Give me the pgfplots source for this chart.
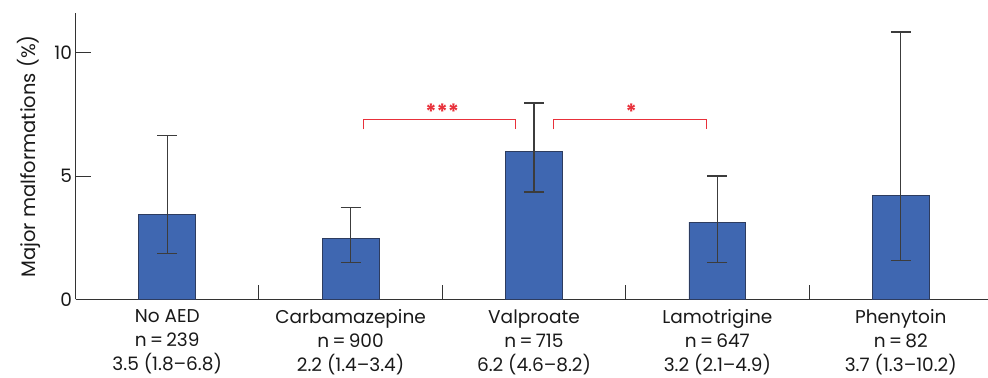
\documentclass[border=0pt]{standalone}
\usepackage{pgfplots}
\pgfplotsset{compat=1.18}
\usepackage{fontspec}
\setmainfont{Poppins}
\definecolor{barblue}{RGB}{63,103,177}
\definecolor{baredge}{RGB}{45,60,95}
\definecolor{sigred}{RGB}{232,48,58}
\definecolor{errgrey}{RGB}{60,60,60}
\begin{document}
\begin{tikzpicture}
\begin{axis}[
  name=ax,
  scale only axis, width=917bp, height=286bp,
  xmin=-0.5, xmax=4.5, ymin=0, ymax=11.6,
  axis x line*=bottom, axis y line*=left,
  axis line style={line width=0.9bp, draw=black!80},
  xtick={0,1,2,3,4},
  xticklabels={{No AED\\n\,=\,239\\3.5 (1.8–6.8)},{Carbamazepine\\n\,=\,900\\2.2 (1.4–3.4)},{Valproate\\n\,=\,715\\6.2 (4.6–8.2)},{Lamotrigine\\n\,=\,647\\3.2 (2.1–4.9)},{Phenytoin\\n\,=\,82\\3.7 (1.3–10.2)}},
  xticklabel style={align=center, font=\fontsize{18.5bp}{24bp}\selectfont, text=black!90, yshift=-6.5bp},
  every major x tick/.append style={draw=none},
  minor xtick={0.5,1.5,2.5,3.5},
  ytick={0,5,10},
  yticklabel style={font=\fontsize{18.5bp}{22bp}\selectfont, text=black!90},
  /pgf/number format/assume math mode=true,
  tick align=inside,
  major tick length=15bp, minor tick length=14bp,
  tick style={line width=0.9bp, draw=black!80},
  ylabel={Major malformations (\%)},
  ylabel style={font=\fontsize{19.5bp}{22bp}\selectfont, text=black!90, yshift=7bp},
  clip=false,
]
\addplot[ybar, bar width=0.31, fill=barblue, draw=baredge, line width=0.8bp,
  error bars/.cd, y dir=both, y explicit,
  error bar style={errgrey, line width=1.1bp},
  error mark options={rotate=90, mark size=10bp, errgrey, line width=1.1bp}]
coordinates {
  (0,3.45) += (0,3.20) -= (0,1.61)
  (1,2.48) += (0,1.26) -= (0,0.97)
  (2,6.01) += (0,1.95) -= (0,1.66)
  (3,3.13) += (0,1.87) -= (0,1.62)
  (4,4.22) += (0,6.62) -= (0,2.65)
};
\addplot[sigred, line width=1.5bp, no marks, sharp plot] coordinates {(1.069,6.89) (1.069,7.30) (1.90,7.30) (1.90,6.89)};
\addplot[sigred, line width=1.5bp, no marks, sharp plot] coordinates {(2.105,6.89) (2.105,7.30) (2.94,7.30) (2.94,6.89)};
\node[text=sigred, font=\fontsize{21bp}{22bp}\bfseries] at (axis cs:1.50,7.62) {***};
\node[text=sigred, font=\fontsize{21bp}{22bp}\bfseries] at (axis cs:2.53,7.62) {*};
\end{axis}
\pgfresetboundingbox
\path[use as bounding box] ([xshift=-75.5bp,yshift=-78.7bp]ax.south west) rectangle ([xshift=912.5bp,yshift=299.3bp]ax.south west);
\end{tikzpicture}
\end{document}
